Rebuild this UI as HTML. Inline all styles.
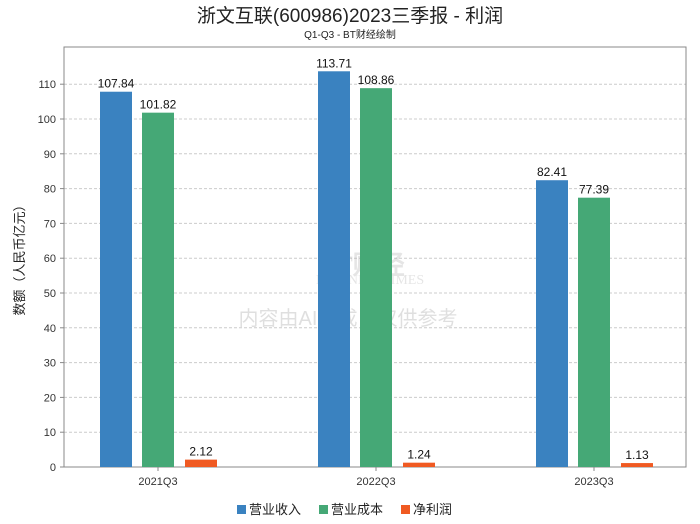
<!DOCTYPE html>
<html><head><meta charset="utf-8"><style>
body{margin:0;background:#fff;}
svg{display:block;font-family:"Liberation Sans","Noto Sans CJK SC",sans-serif;}
</style></head><body>
<svg id="c" width="700" height="524" xmlns="http://www.w3.org/2000/svg">
<text x="350" y="22" text-anchor="middle" font-size="19" fill="#222">浙文互联(600986)2023三季报 - 利润</text>
<text x="350" y="38" text-anchor="middle" font-size="10" fill="#222">Q1-Q3 - BT财经绘制</text>
<g id="grid"></g>
<rect x="64" y="47" width="622" height="420" fill="none" stroke="#888"/>
<g opacity="0.3">
<text x="318" y="274" font-size="26" font-weight="bold" fill="#aaa" font-family="Liberation Serif,serif">BT财经</text>
<text x="316" y="284" font-size="14" fill="#aaa" font-family="Liberation Serif,serif">BUSINESSTIMES</text>
<text x="348" y="325" text-anchor="middle" font-size="20" fill="#999">内容由AI生成，仅供参考</text>
</g>
<g id="bars"></g>
<text transform="translate(24,257) rotate(-90)" text-anchor="middle" font-size="13" fill="#222">数额（人民币亿元）</text>
<g id="legend"></g>
</svg>
<script>
const categories=["2021Q3","2022Q3","2023Q3"];
const seriesNames=["营业收入","营业成本","净利润"];
const revenue=[107.84,113.71,82.41];
const cost=[101.82,108.86,77.39];
const profit=[2.12,1.24,1.13];
const yTicks=[0,10,20,30,40,50,60,70,80,90,100,110];
const colors=["#3a82c0","#45a876","#f05a22"];
const NS="http://www.w3.org/2000/svg";
const left=64,right=686,bottom=467,pxPerUnit=3.48;
const y=v=>bottom-v*pxPerUnit;
const gw=218,firstCenter=158;
const x=i=>firstCenter+gw*i;
function mk(tag,attrs,parent){const e=document.createElementNS(NS,tag);for(const k in attrs)e.setAttribute(k,attrs[k]);parent.appendChild(e);return e;}
const grid=document.getElementById('grid');
yTicks.forEach(t=>{
  if(t>0){const l=mk('line',{x1:left,x2:right,y1:y(t),y2:y(t),stroke:'#ccc','stroke-dasharray':'3,2'},grid);
  
  }
  const tk=mk('line',{x1:left-4,x2:left,y1:y(t),y2:y(t),stroke:'#888'},grid);
  
  
  const tx=mk('text',{x:left-8,y:y(t)+4,'text-anchor':'end','font-size':11,fill:'#333'},grid);
  tx.textContent=t;
  
  
});
const bars=document.getElementById('bars');
const series=[revenue,cost,profit];
const bw=32,offs=[-42,0,43];
categories.forEach((c,i)=>{
  series.forEach((s,j)=>{
    const cx=x(i)+offs[j];
    const r=mk('rect',{x:cx-bw/2,y:y(s[i]),width:bw,height:bottom-y(s[i]),fill:colors[j]},bars);
    
    
    const t=mk('text',{x:cx,y:y(s[i])-4,'text-anchor':'middle','font-size':12,fill:'#111'},bars);
    t.textContent=s[i].toFixed(2);
    
    
  });
  const tk=mk('line',{x1:x(i),x2:x(i),y1:bottom,y2:bottom+4,stroke:'#888'},bars);
  
  
  const t=mk('text',{x:x(i),y:bottom+18,'text-anchor':'middle','font-size':11,fill:'#333'},bars);
  t.textContent=c;
  
  
});
const lg=document.getElementById('legend');
const lx=[237,319,401];
seriesNames.forEach((n,j)=>{
  const r=mk('rect',{x:lx[j],y:505,width:9,height:9,fill:colors[j]},lg);
  
  
  const t=mk('text',{x:lx[j]+12,y:514,'font-size':13,fill:'#222'},lg);
  t.textContent=n;
  
  
});
</script>
</body></html>
